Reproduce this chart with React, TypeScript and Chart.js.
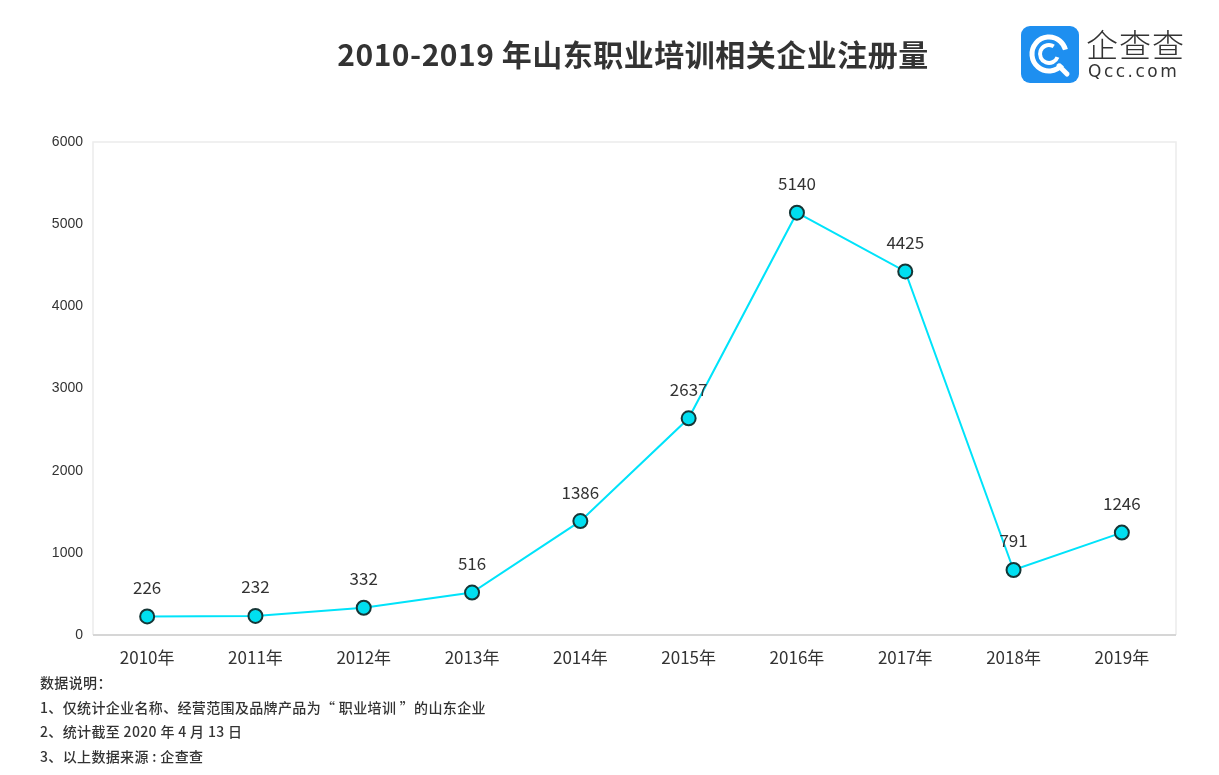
import React, { useEffect, useRef } from "react";
import { Chart, registerables } from "chart.js";

Chart.register(...registerables);

const title = "2010-2019 年山东职业培训相关企业注册量";
const categories = ["2010年", "2011年", "2012年", "2013年", "2014年", "2015年", "2016年", "2017年", "2018年", "2019年"];
const values = [226, 232, 332, 516, 1386, 2637, 5140, 4425, 791, 1246];
const yTicks = [0, 1000, 2000, 3000, 4000, 5000, 6000];
const notes = [
  "数据说明：",
  "1、仅统计企业名称、经营范围及品牌产品为“ 职业培训 ”的山东企业",
  "2、统计截至 2020 年 4 月 13 日",
  "3、以上数据来源 : 企查查",
];

const CJK = '"Noto Sans CJK SC", "Noto Sans", sans-serif';

const boxPlugin = {
  id: "boxPlugin",
  beforeDatasetsDraw(chart: any) {
    const { ctx, chartArea } = chart;
    ctx.save();
    ctx.strokeStyle = "#ececec";
    ctx.lineWidth = 1.5;
    ctx.beginPath();
    ctx.moveTo(chartArea.left, chartArea.bottom);
    ctx.lineTo(chartArea.left, chartArea.top);
    ctx.lineTo(chartArea.right, chartArea.top);
    ctx.lineTo(chartArea.right, chartArea.bottom);
    ctx.stroke();
    ctx.strokeStyle = "#d6d6d6";
    ctx.lineWidth = 2;
    ctx.beginPath();
    ctx.moveTo(chartArea.left, chartArea.bottom);
    ctx.lineTo(chartArea.right, chartArea.bottom);
    ctx.stroke();
    ctx.restore();
  },
};

const labelPlugin = {
  id: "labelPlugin",
  afterDatasetsDraw(chart: any) {
    const { ctx } = chart;
    const meta = chart.getDatasetMeta(0);
    ctx.save();
    ctx.font = `17px ${CJK}`;
    ctx.fillStyle = "#333333";
    ctx.textAlign = "center";
    ctx.textBaseline = "middle";
    meta.data.forEach((pt: any, i: number) => {
      ctx.fillText(String(values[i]), pt.x, pt.y - 29);
    });
    ctx.restore();
  },
};

export default function App() {
  const ref = useRef<HTMLCanvasElement>(null);

  useEffect(() => {
    document.body.style.margin = "0";
    const chart = new Chart(ref.current as HTMLCanvasElement, {
      type: "line",
      data: {
        labels: categories,
        datasets: [
          {
            data: values,
            borderColor: "#00E3FA",
            borderWidth: 2,
            pointRadius: 7,
            pointHoverRadius: 7,
            pointBackgroundColor: "#00DFF0",
            pointBorderColor: "#163636",
            pointBorderWidth: 2,
            tension: 0,
          },
        ],
      },
      options: {
        responsive: false,
        animation: false,
        devicePixelRatio: 1,
        layout: { padding: { top: 142, right: 43, left: 0, bottom: 0 } },
        plugins: { legend: { display: false }, tooltip: { enabled: false }, title: { display: false } },
        scales: {
          x: {
            offset: true,
            grid: { display: false, drawTicks: false },
            border: { display: false },
            ticks: { color: "#333333", font: { family: CJK, size: 17 }, padding: 12, maxRotation: 0 },
            afterFit(scale: any) {
              scale.height = 140;
            },
          },
          y: {
            min: 0,
            max: 6000,
            afterBuildTicks(scale: any) {
              scale.ticks = yTicks.map((v) => ({ value: v }));
            },
            grid: { display: false, drawTicks: false },
            border: { display: false },
            ticks: {
              color: "#333333",
              font: { family: '"Liberation Sans", Arial, sans-serif', size: 14 },
              padding: 10,
              callback: (v: any) => String(v),
            },
            afterFit(scale: any) {
              scale.width = 93;
            },
          },
        },
      },
      plugins: [boxPlugin, labelPlugin],
    });
    return () => chart.destroy();
  }, []);

  return (
    <div style={{ position: "relative", width: 1219, height: 775, background: "#fff", overflow: "hidden" }}>
      <canvas ref={ref} width={1219} height={775} style={{ position: "absolute", left: 0, top: 0 }} />
      <div
        style={{
          position: "absolute",
          left: 0,
          width: 1266,
          top: 33,
          textAlign: "center",
          fontFamily: CJK,
          fontWeight: 700,
          fontSize: 30,
          lineHeight: "40px",
          color: "#333",
          letterSpacing: 0.5,
        }}
      >
        {title}
      </div>
      <div style={{ position: "absolute", left: 1021, top: 26, width: 58, height: 57 }}>
        <svg width="58" height="57" viewBox="0 0 58 57">
          <rect x="0" y="0" width="58" height="57" rx="9" fill="#1E8FF0" />
          <circle cx="28" cy="28" r="17" fill="none" stroke="#fff" strokeWidth="5" strokeDasharray="90 17" transform="rotate(40 28 28)" />
          <circle cx="28" cy="28" r="9" fill="none" stroke="#fff" strokeWidth="4" strokeDasharray="44 13" transform="rotate(20 28 28)" />
          <line x1="38" y1="40" x2="46" y2="48" stroke="#fff" strokeWidth="5" strokeLinecap="round" />
        </svg>
      </div>
      <div
        style={{
          position: "absolute",
          left: 1086,
          top: 24,
          fontFamily: CJK,
          fontSize: 32,
          fontWeight: 300,
          lineHeight: "38px",
          color: "#333",
          letterSpacing: 1,
        }}
      >
        企查查
      </div>
      <div
        style={{
          position: "absolute",
          left: 1088,
          top: 60,
          fontFamily: '"DejaVu Sans", sans-serif',
          fontSize: 17,
          lineHeight: "22px",
          color: "#333",
          letterSpacing: 2.5,
        }}
      >
        Qcc.com
      </div>
      {notes.map((t, i) => (
        <div
          key={i}
          style={{
            position: "absolute",
            left: 40,
            top: 672 + i * 24.6,
            fontFamily: CJK,
            fontSize: 14,
            fontWeight: 500,
            lineHeight: "20px",
            color: "#333",
            letterSpacing: 0.35,
            whiteSpace: "pre",
          }}
        >
          {t}
        </div>
      ))}
    </div>
  );
}
